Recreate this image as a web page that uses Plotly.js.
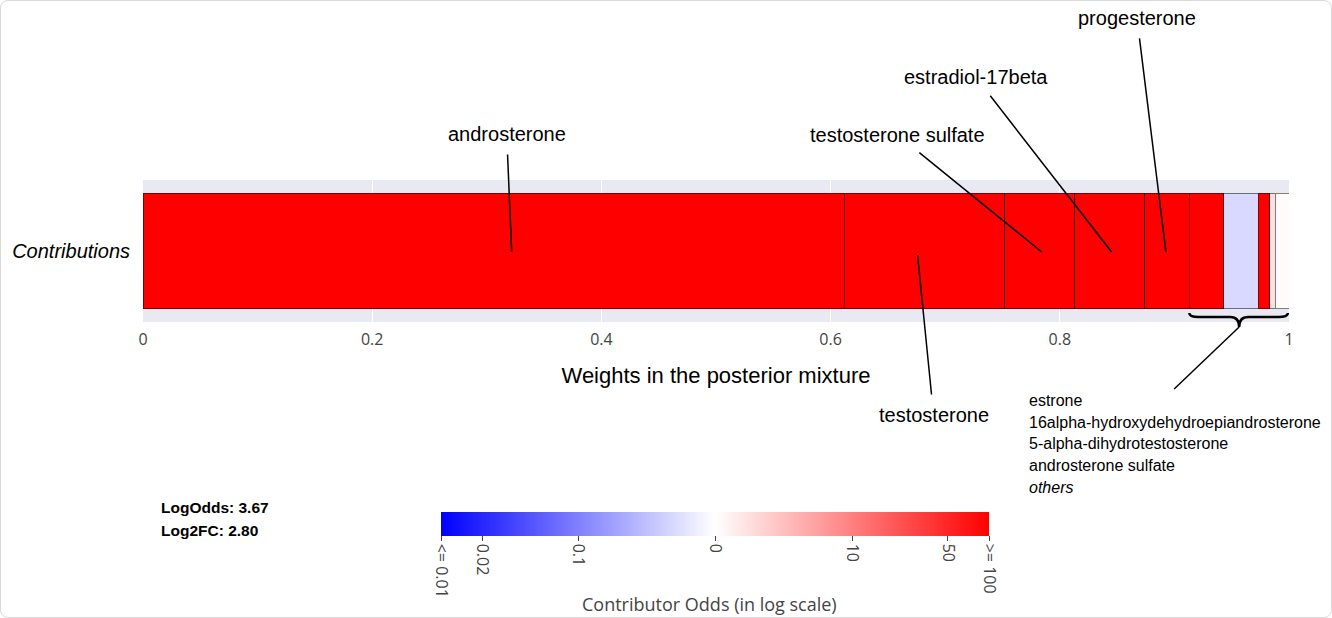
<!DOCTYPE html>
<html>
<head>
<meta charset="utf-8">
<script src="https://cdn.plot.ly/plotly-3.0.1.min.js"></script>
<style>
  html, body { margin: 0; padding: 0; background: #fff; }
  #wrap { position: relative; width: 1332px; height: 618px; }
  #chart { width: 1332px; height: 618px; }
  #frame { position: absolute; left: 0; top: 0; width: 1332px; height: 618px; box-sizing: border-box;
           border: 1px solid #d9d9d9; border-radius: 8px; pointer-events: none; }
</style>
</head>
<body>
<div id="wrap"><div id="chart"></div><div id="frame"></div></div>
<script>
// ---- data ----
const contributors = ['androsterone', 'testosterone', 'testosterone sulfate', 'estradiol-17beta', 'progesterone',
  'estrone', '16alpha-hydroxydehydroepiandrosterone', '5-alpha-dihydrotestosterone', 'androsterone sulfate', 'others'];
const weights = [0.612, 0.140, 0.061, 0.061, 0.039, 0.030, 0.030, 0.010, 0.005, 0.012];
// log10 of contributor odds, clipped to [-2, 2]
const logOdds = [2, 2, 2, 2, 2, 2, -0.30, 2, 0.24, 0.03];
const nLabeled = 5;
const cbTickVals = [-2, Math.log10(0.02), -1, 0, 1, Math.log10(50), 2];
const cbTickText = ['<= 0.01', '0.02', '0.1', '0', '10', '50', '>= 100'];
const xTickVals = [0, 0.2, 0.4, 0.6, 0.8, 1];
const statLines = ['LogOdds: 3.67', 'Log2FC: 2.80'];

// ---- layout geometry ----
const W = 1332, H = 618, mL = 143, mR = 43, mT = 180, mB = 296;
const pw = W - mL - mR, ph = H - mT - mB;
const px2x = px => (px - mL) / pw;
const py2y = py => (H - mB - py) / ph;
const FONT = 'Liberation Sans, Arial, sans-serif';
const colorscale = [[0, 'rgb(0,0,255)'], [0.5, 'rgb(255,255,255)'], [1, 'rgb(255,0,0)']];

const traces = contributors.map((name, i) => ({
  type: 'bar', orientation: 'h', name: name,
  x: [weights[i]], y: ['Contributions'], width: 0.81,
  marker: {
    color: [logOdds[i]], cmin: -2, cmax: 2, colorscale: colorscale,
    line: {color: 'rgba(0,0,0,0.5)', width: 1},
    showscale: i === 0,
    colorbar: i === 0 ? {
      orientation: 'h', x: px2x(715), xanchor: 'center', len: (548 + 20) / pw, lenmode: 'fraction', xpad: 10,
      y: py2y(512), yanchor: 'top', ypad: 0, thickness: 24, outlinewidth: 0,
      tickmode: 'array', tickvals: cbTickVals, ticktext: cbTickText, tickangle: 90,
      ticks: 'outside', ticklen: 5, tickcolor: '#444',
      tickfont: {size: 16, color: '#444'}
    } : undefined
  },
  hoverinfo: 'name+x'
}));

// cumulative positions
const cum = [];
weights.reduce((a, w, i) => { cum[i] = a; return a + w; }, 0);
const mids = weights.map((w, i) => cum[i] + w / 2);

const labelOffsets = [
  {ax: -5, ay: -118, xs: 18, ys: -1},
  {ax: 16, ay: 160, xs: -7, ys: -4},
  {ax: -144, ay: -117, xs: 2, ys: -1},
  {ax: -136, ay: -175, xs: 2, ys: -1},
  {ax: -29, ay: -234, xs: -1, ys: -1}
];
const annotations = [];
for (let i = 0; i < nLabeled; i++) {
  const o = labelOffsets[i];
  annotations.push({
    x: mids[i], y: 'Contributions', xref: 'x', yref: 'y', text: contributors[i],
    showarrow: true, arrowhead: 0, arrowwidth: 1.5, arrowcolor: '#000',
    ax: o.ax, ay: o.ay, xshift: o.xs, yshift: o.ys, startstandoff: 8,
    font: {family: FONT, size: 20, color: '#000'}
  });
}
// grouped (unlabeled) contributors
const restNames = contributors.slice(nLabeled);
const listY = [400, 422, 443, 465, 487];
restNames.forEach((n, j) => {
  annotations.push({
    xref: 'paper', yref: 'paper', x: px2x(1027), y: py2y(listY[j]), xanchor: 'left', yanchor: 'middle',
    text: n === 'others' ? '<i>others</i>' : n, showarrow: false,
    font: {family: FONT, size: 16, color: '#000'}
  });
});
statLines.forEach((t, j) => {
  annotations.push({
    xref: 'paper', yref: 'paper', x: px2x(159), y: py2y(507 + 23 * j), xanchor: 'left', yanchor: 'middle',
    text: '<b>' + t + '</b>', showarrow: false, font: {family: FONT, size: 15.5, color: '#000'}
  });
});
// colorbar title
annotations.push({
  xref: 'paper', yref: 'paper', x: px2x(709), y: py2y(604), xanchor: 'center', yanchor: 'middle',
  text: 'Contributor Odds (in log scale)', showarrow: false,
  font: {size: 18, color: '#444'}
});

// brace under grouped contributors
const gx0 = cum[nLabeled], gx1 = cum[weights.length - 1] + weights[weights.length - 1] - 0.001;
const gm = (cum[nLabeled] + 1) / 2;
const d = 9 / pw;
const yTop = py2y(313), yMid = py2y(317), yTip = py2y(327);
const bracePath = `M ${gx0},${yTop} Q ${gx0},${yMid} ${gx0 + d},${yMid} L ${gm - d},${yMid} Q ${gm},${yMid} ${gm},${yTip} ` +
  `Q ${gm},${yMid} ${gm + d},${yMid} L ${gx1 - d},${yMid} Q ${gx1},${yMid} ${gx1},${yTop}`;
const shapes = [
  {type: 'path', xref: 'x', yref: 'paper', path: bracePath, line: {color: '#000', width: 2.5}},
  {type: 'line', xref: 'x', yref: 'paper', x0: gm, y0: yTip, x1: gm - 65 / pw, y1: py2y(389),
   line: {color: '#000', width: 1.5}}
];

const layout = {
  width: W, height: H,
  margin: {l: mL, r: mR, t: mT, b: mB, pad: 0},
  paper_bgcolor: '#fff', plot_bgcolor: '#e8e9f2',
  barmode: 'stack', showlegend: false,
  font: {family: '"Open Sans", verdana, arial, sans-serif', color: '#444'},
  xaxis: {
    range: [0, 1], tickvals: xTickVals, ticktext: xTickVals.map(String),
    showgrid: true, gridcolor: '#fff', gridwidth: 1, zeroline: false, showline: false,
    ticks: '', ticklabelstandoff: 6, tickfont: {size: 16, color: '#444'}, automargin: false,
    title: {text: 'Weights in the posterior mixture', standoff: 18, font: {family: FONT, size: 22, color: '#000'}}
  },
  yaxis: {
    range: [-0.5, 0.5], tickvals: ['Contributions'], ticktext: ['<i>Contributions</i>'],
    tickfont: {family: FONT, size: 20, color: '#000'}, ticks: '', ticklabelstandoff: 12,
    showgrid: false, zeroline: false, automargin: false
  },
  annotations: annotations,
  shapes: shapes
};

Plotly.newPlot('chart', traces, layout, {displayModeBar: false, staticPlot: true});
</script>
</body>
</html>
